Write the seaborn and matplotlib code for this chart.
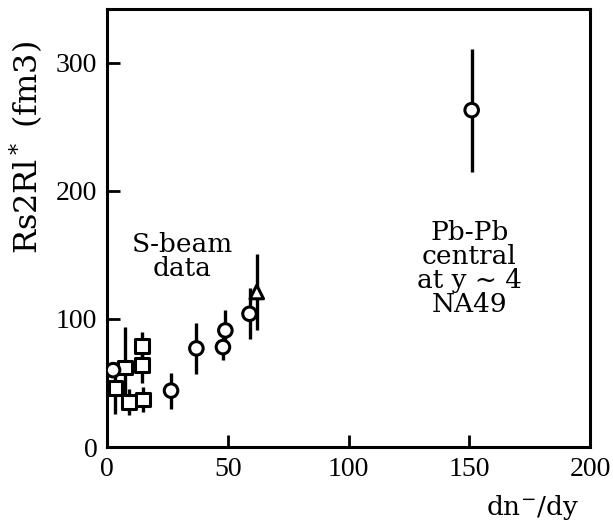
import numpy as np
import pandas as pd
import matplotlib
matplotlib.use("Agg")
import matplotlib.pyplot as plt
import seaborn as sns

# S-beam data, squares
sq_x = [3.5, 7.5, 9.0, 14.5, 14.5, 15.0]
sq_y = [46, 62, 35, 79, 64, 37]
sq_err = [20, 32, 10, 11, 14, 10]

# S-beam data, circles
ci_x = [2.5, 26.5, 37.0, 48.0, 49.0, 59.0]
ci_y = [60, 44, 77, 78, 91, 104]
ci_err = [5, 14, 20, 10, 16, 20]

# triangle
tr_x = [62.0]
tr_y = [121]
tr_err = [30]

# Pb-Pb central NA49
pb_x = [151.0]
pb_y = [263]
pb_err = [48]

sns.set_style("ticks")
plt.rcParams["font.family"] = ["DejaVu Serif"]
plt.rcParams["mathtext.fontset"] = "dejavuserif"
for key in ["text.color", "axes.labelcolor", "xtick.color", "ytick.color",
            "axes.edgecolor"]:
    plt.rcParams[key] = "black"

fig = plt.figure(figsize=(6.13, 5.27), dpi=100)
ax = fig.add_axes([0.1746, 0.1518, 0.7879, 0.8312])

df = pd.concat([
    pd.DataFrame({"x": sq_x, "y": sq_y, "err": sq_err, "kind": "sq"}),
    pd.DataFrame({"x": ci_x, "y": ci_y, "err": ci_err, "kind": "ci"}),
    pd.DataFrame({"x": tr_x, "y": tr_y, "err": tr_err, "kind": "tr"}),
    pd.DataFrame({"x": pb_x, "y": pb_y, "err": pb_err, "kind": "ci"}),
])

# error bars first, markers on top
ax.errorbar(df["x"], df["y"], yerr=df["err"], fmt="none",
            ecolor="black", elinewidth=2.4, capsize=0, zorder=2)

sns.scatterplot(
    data=df, x="x", y="y", style="kind",
    markers={"sq": "s", "ci": "o", "tr": "^"},
    s=95, facecolor="white", edgecolor="black", linewidth=2.2,
    legend=False, ax=ax, zorder=3
)

ax.set_xlim(0, 200)
ax.set_ylim(0, 342)
ax.set_xticks([0, 50, 100, 150, 200])
ax.set_yticks([0, 100, 200, 300])
ax.tick_params(direction="in", length=9, width=2, pad=7,
               top=False, right=False, colors="black")
for lab in ax.get_xticklabels() + ax.get_yticklabels():
    lab.set_family("Liberation Serif")
    lab.set_fontsize(20)

for side in ["left", "right", "top", "bottom"]:
    ax.spines[side].set_visible(True)
    ax.spines[side].set_linewidth(2.2)
    ax.spines[side].set_color("black")

ax.set_ylabel(r"Rs2Rl$^*$ (fm3)", fontsize=23, va="center")
ax.yaxis.set_label_coords(-0.166, 0.685)
ax.set_xlabel(r"dn$^{-}$/dy", fontsize=19)
ax.xaxis.set_label_coords(0.88, -0.105)

ax.text(31, 149, "S-beam\ndata", ha="center", va="center",
        fontsize=19, linespacing=0.95)
ax.text(150, 139, "Pb-Pb\ncentral\nat y ~ 4\nNA49", ha="center", va="center",
        fontsize=19, linespacing=0.95)

plt.savefig("out.png", dpi=100)
